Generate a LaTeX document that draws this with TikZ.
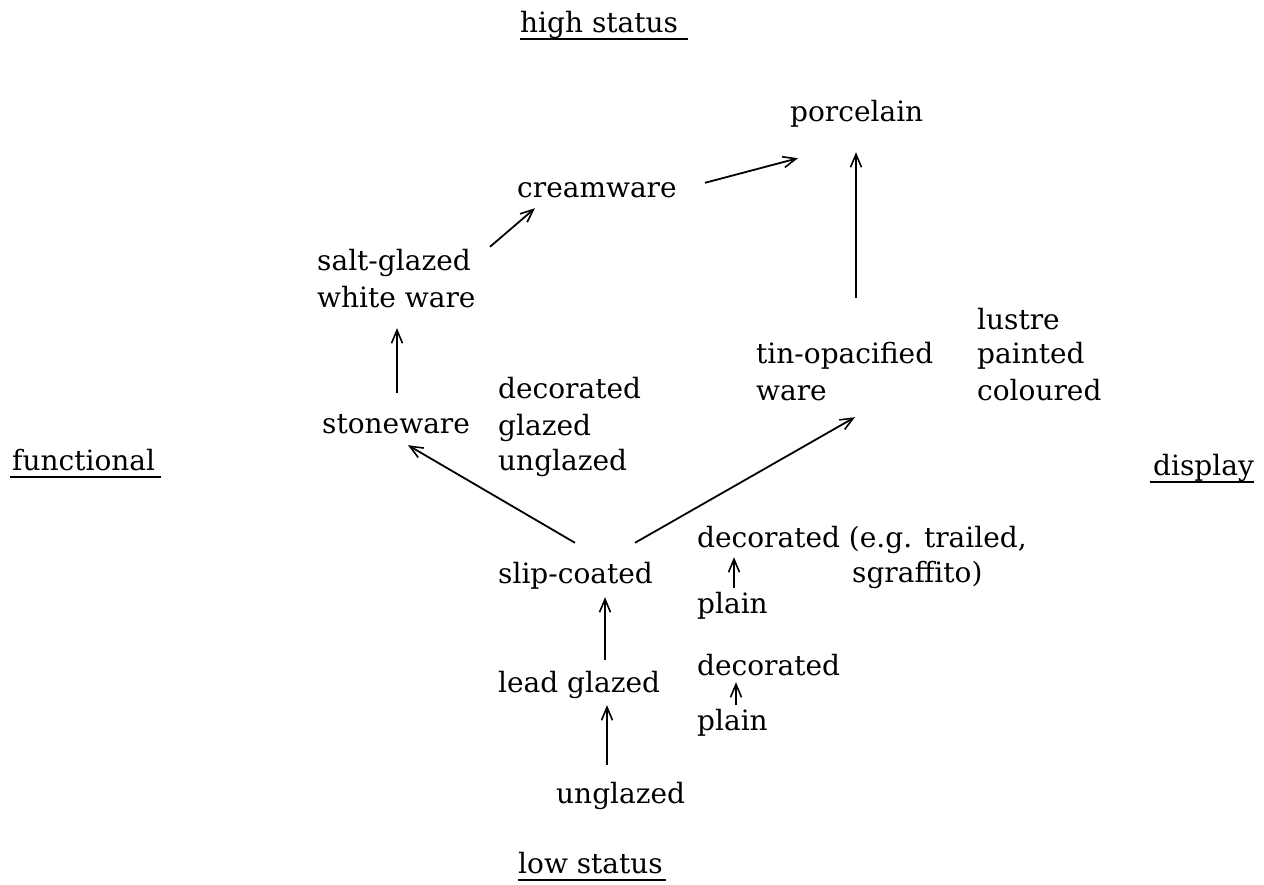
\documentclass[tikz,border=0pt]{standalone}
\usepackage{fontspec}
\setmainfont{DejaVu Serif}
\usetikzlibrary{arrows.meta}

\tikzset{
	txt/.style={anchor=base west, inner sep=0pt, font=\fontsize{28}{34}\selectfont, text height=20pt, text depth=6pt},
	head/.style={txt, text depth=7pt},
	arr/.style={line width=1.8pt, -{Straight Barb[length=13pt,width=11pt,line width=1.6pt]}},
	uline/.style={line width=2.2pt}
}

\begin{document}
\begin{tikzpicture}[x=1pt,y=1pt,yscale=-1,xscale=1]
	\path[use as bounding box] (0,0) rectangle (1264,884);

	% Text Node
	\node[head] (high) at (520,32) {high status};
	% Text Node
	\node[head] (low) at (518,873) {low status};
	% Text Node
	\node[head] (functional) at (12,470) {functional};
	% Text Node
	\node[head] (display) at (1153,475) {display};
	% Text Node
	\node[txt] (porcelain) at (790,121) {porcelain};
	% Text Node
	\node[txt] (cream) at (517,197) {creamware};
	% Text Node
	\node[txt] (salt) at (317,270) {salt-glazed};
	\node[txt] (white) at (317,307) {white ware};
	% Text Node
	\node[txt] (stone) at (322,433) {stoneware};
	% Text Node
	\node[txt] (decA) at (498,398) {decorated};
	\node[txt] (glazed) at (498,435) {glazed};
	\node[txt] (unglA) at (498,470) {unglazed};
	% Text Node
	\node[txt] (tin) at (756,363) {tin-opacified};
	\node[txt] (tinware) at (756,400) {ware};
	% Text Node
	\node[txt] (lustre) at (977,329) {lustre};
	\node[txt] (painted) at (977,363) {painted};
	\node[txt] (coloured) at (977,400) {coloured};
	% Text Node
	\node[txt] (slip) at (498,583) {slip-coated};
	% Text Node
	\node[txt] (decB) at (697,547) {decorated (e.g. trailed,};
	\node[txt] (sgraffito) at (852,582) {sgraffito)};
	% Text Node
	\node[txt] (plainB) at (697,613) {plain};
	% Text Node
	\node[txt] (decC) at (697,675) {decorated};
	% Text Node
	\node[txt] (plainC) at (697,730) {plain};
	% Text Node
	\node[txt] (lead) at (498,692) {lead glazed};
	% Text Node
	\node[txt] (unglB) at (556,803) {unglazed};

	% Underline
	\draw[uline] (high.south west) -- ([xshift=10pt]high.south east);
	\draw[uline] ([xshift=-2pt]functional.south west) -- ([xshift=6pt]functional.south east);
	\draw[uline] ([xshift=-3pt]display.south west) -- (display.south east);
	\draw[uline] (low.south west) -- ([xshift=3pt]low.south east);

	% Connection
	\draw[arr] ([xshift=51pt,yshift=-18pt]unglB.north west) -- ([xshift=109pt,yshift=7pt]lead.south west);
	% Connection
	\draw[arr] ([xshift=107pt,yshift=-12pt]lead.north west) -- ([xshift=107pt,yshift=8pt]slip.south west);
	% Connection
	\draw[arr] ([xshift=39pt,yshift=-5pt]plainC.north west) -- ([xshift=39pt,yshift=1pt]decC.south west);
	% Connection
	\draw[arr] ([xshift=37pt,yshift=-5pt]plainB.north west) -- ([xshift=37pt,yshift=4pt]decB.south west);
	% Connection
	\draw[arr] ([xshift=77pt,yshift=-20pt]slip.north west) -- ([xshift=86pt,yshift=6pt]stone.south west);
	% Connection
	\draw[arr] ([xshift=137pt,yshift=-20pt]slip.north west) -- ([xshift=99pt,yshift=11pt]tinware.south west);
	% Connection
	\draw[arr] ([xshift=75pt,yshift=-20pt]stone.north west) -- ([xshift=80pt,yshift=15pt]white.south west);
	% Connection
	\draw[arr] ([xshift=173pt,yshift=-3pt]salt.north west) -- ([xshift=18pt,yshift=5pt]cream.south west);
	% Connection
	\draw[arr] ([xshift=188pt,yshift=6pt]cream.north west) -- ([xshift=8pt,yshift=31pt]porcelain.south west);
	% Connection
	\draw[arr] ([xshift=100pt,yshift=-45pt]tin.north west) -- ([xshift=66pt,yshift=25pt]porcelain.south west);

\end{tikzpicture}
\end{document}
